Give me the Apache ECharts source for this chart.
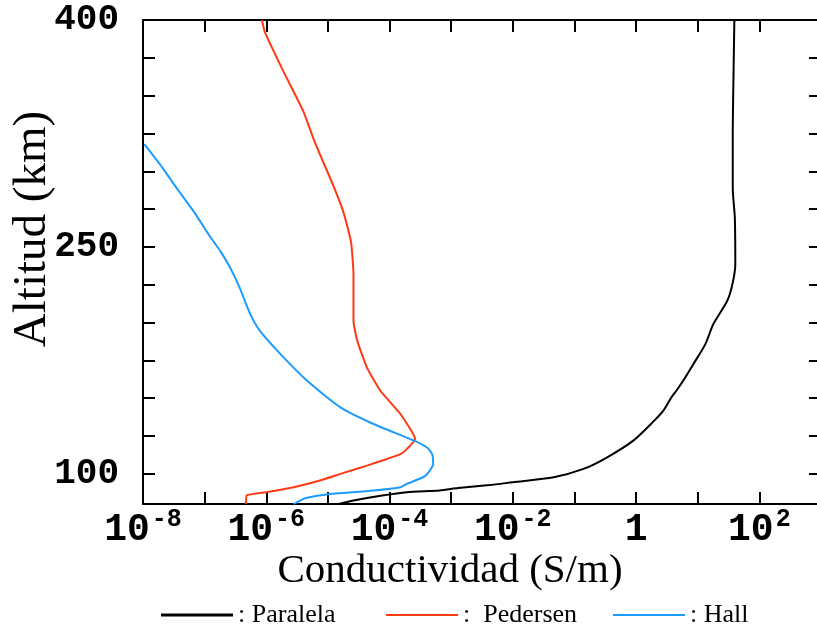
<!DOCTYPE html>
<html>
<head>
<meta charset="utf-8">
<script src="https://cdn.jsdelivr.net/npm/echarts@6/dist/echarts.min.js"></script>
<style>html,body{margin:0;padding:0;background:#fff}#c{width:817px;height:629px}</style>
</head>
<body>
<div id="c"></div>
<script>
// Altitude (km) and conductivity (S/m)
const paralelaAlt = [80, 82.3, 85.6, 87.8, 89, 90.5, 92.5, 94.4, 97.7, 103.2, 110.9, 121.9, 135.1, 141.7, 150.4, 154.9, 161.5, 172.5, 185.7, 198.9, 214.2, 225.2, 238.4, 269.2, 289, 324.2, 361.5, 400];
const paralelaVal = [1.5e-5, 2.6e-5, 7.6e-5, 1.9e-4, 6.5e-4, 1.3e-3, 4.2e-3, 1.0e-2, 4.6e-2, 0.14, 0.34, 0.90, 1.97, 2.77, 3.73, 4.5, 5.8, 8.5, 13.3, 17.9, 30, 36.5, 40.7, 40, 37, 37, 38, 39.3];

const pedersenAlt = [80, 85.6, 87.8, 91.1, 95.5, 99.9, 105.4, 109.8, 113, 115.3, 123, 139.5, 154.9, 170.2, 187.8, 201, 231.8, 251.8, 262.4, 275.6, 291.4, 306.6, 321.8, 339.6, 366, 392, 400];
const pedersenVal = [4.7e-7, 4.8e-7, 1.0e-6, 2.8e-6, 7.4e-6, 1.6e-5, 4.3e-5, 9.1e-5, 1.5e-4, 1.8e-4, 2.6e-4, 1.5e-4, 7.1e-5, 4.3e-5, 3.0e-5, 2.6e-5, 2.6e-5, 2.4e-5, 2.1e-5, 1.7e-5, 1.2e-5, 8.3e-6, 5.8e-6, 4.0e-6, 1.9e-6, 9.5e-7, 8.5e-7];

const hallAlt = [80, 83.4, 84.5, 86.3, 88.9, 91.1, 93.3, 97.7, 99.9, 106.5, 113, 117.5, 121.9, 132.9, 143.9, 161.5, 179.1, 194.4, 205.5, 223, 236.2, 247.2, 256, 273.6, 289, 304.4, 318];
const hallVal = [2.8e-6, 4.0e-6, 5.0e-6, 9.5e-6, 5.5e-5, 1.5e-4, 1.9e-4, 3.5e-4, 4.1e-4, 5.1e-4, 4.9e-4, 4.0e-4, 2.5e-4, 5.5e-5, 1.6e-5, 4.6e-6, 1.7e-6, 7.9e-7, 5.5e-7, 3.7e-7, 2.6e-7, 1.8e-7, 1.26e-7, 6.6e-8, 3.5e-8, 1.9e-8, 1.05e-8];

const seriesNames = ['Paralela', 'Pedersen', 'Hall'];
const legendTexts = [': Paralela', ':  Pedersen', ': Hall'];
const yTickValues = [100, 125, 150, 175, 200, 225, 250, 275, 300, 325, 350, 375, 400];
const yLabelValues = [100, 250, 400];
const xTitle = 'Conductividad (S/m)';
const yTitle = 'Altitud (km)';

const pairs = (vals, alts) => alts.map((a, i) => [vals[i], a]);

const monoBold = {fontFamily: 'Liberation Mono', fontWeight: 'bold', color: '#000'};

function xLabel(v) {
  const k = Math.round(Math.log10(v));
  if (k % 2 !== 0) return '';
  if (k === 0) return '{b|1}';
  return '{b|10}{s|' + (k < 0 ? '-' : '') + Math.abs(k) + '}';
}

const axisLineStyle = {lineStyle: {color: '#000', width: 2}};
const tickStyle = {inside: true, length: 12, lineStyle: {color: '#000', width: 2}};
const colors = ['#000000', '#ff3a12', '#1c9cff'];

const chart = echarts.init(document.getElementById('c'), null, {renderer: 'canvas'});
chart.setOption({
  animation: false,
  backgroundColor: '#fff',
  grid: {left: 143, top: 20, width: 678, height: 484, containLabel: false, outerBoundsMode: 'none'},
  xAxis: [{
    type: 'log', logBase: 10, min: 1e-8, max: 1e3, interval: 1,
    position: 'bottom',
    axisLine: axisLineStyle, axisTick: tickStyle, splitLine: {show: false}, minorTick: {show: false},
    axisLabel: {
      margin: 3, formatter: xLabel, showMinLabel: true, showMaxLabel: true,
      rich: {
        b: Object.assign({fontSize: 38, lineHeight: 42, verticalAlign: 'bottom'}, monoBold),
        s: Object.assign({fontSize: 25, lineHeight: 20, verticalAlign: 'top', padding: [0, 0, 0, 2]}, monoBold)
      }
    },
    name: xTitle, nameLocation: 'middle', nameGap: 47, nameMoveOverlap: false,
    nameTextStyle: {fontFamily: 'Liberation Serif', fontSize: 41, color: '#000', padding: [0, 64, 0, 0]}
  }, {
    type: 'log', logBase: 10, min: 1e-8, max: 1e3, interval: 1,
    position: 'top',
    axisLine: axisLineStyle, axisTick: tickStyle, splitLine: {show: false},
    axisLabel: {show: false}
  }],
  yAxis: [{
    type: 'value', min: 80, max: 400,
    position: 'left',
    axisLine: axisLineStyle,
    axisTick: Object.assign({customValues: yTickValues}, tickStyle),
    splitLine: {show: false},
    axisLabel: Object.assign({customValues: yLabelValues, margin: 24, fontSize: 36, padding: [6, 0, 0, 0]}, monoBold),
    name: yTitle, nameLocation: 'middle', nameGap: 87, nameRotate: 90, nameMoveOverlap: false,
    nameTextStyle: {fontFamily: 'Liberation Serif', fontSize: 47, color: '#000', padding: [0, 0, 0, 66]}
  }, {
    type: 'value', min: 80, max: 400,
    position: 'right',
    axisLine: axisLineStyle,
    axisTick: Object.assign({customValues: yTickValues}, tickStyle),
    splitLine: {show: false},
    axisLabel: {show: false}
  }],
  legend: [0, 1, 2].map((i) => ({
    data: [seriesNames[i]],
    left: [161, 386, 613][i], top: 602, padding: 0,
    icon: 'rect',
    itemWidth: 72, itemHeight: i === 0 ? 3 : 2, itemGap: 0, itemTextGap: [12, 13, 11][i],
    formatter: () => legendTexts[i],
    textStyle: {fontFamily: 'Liberation Serif', fontSize: 26, color: '#000'}
  })),
  series: [0, 1, 2].map((i) => ({
    name: seriesNames[i], type: 'line',
    data: [pairs(paralelaVal, paralelaAlt), pairs(pedersenVal, pedersenAlt), pairs(hallVal, hallAlt)][i],
    showSymbol: false, symbol: 'none', smooth: [0.25, 0.15, 0.2][i],
    lineStyle: {color: colors[i], width: 2}, itemStyle: {color: colors[i]}
  }))
});
</script>
</body>
</html>
